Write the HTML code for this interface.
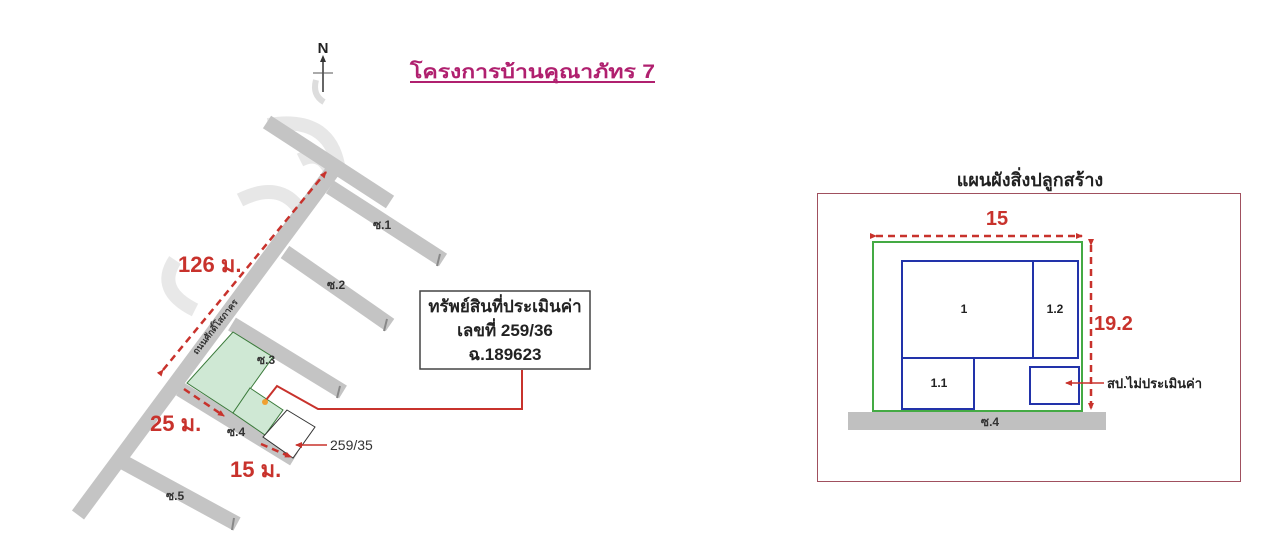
<!DOCTYPE html>
<html><head><meta charset="utf-8"><style>
html,body{margin:0;padding:0;background:#fff;}
svg{display:block;}
text{font-family:"Liberation Sans","DejaVu Sans",sans-serif;font-weight:bold;}
</style></head><body>
<svg width="1275" height="558" viewBox="0 0 1275 558" xmlns="http://www.w3.org/2000/svg">
<defs>
<marker id="ar" markerWidth="8" markerHeight="8" refX="6" refY="4" orient="auto" markerUnits="userSpaceOnUse"><path d="M0,1 L7,4 L0,7 z" fill="#c8322c"/></marker>
</defs>
<!-- watermark -->
<g fill="none" stroke="#e2e2e2" stroke-width="14" opacity="0.8">
<path d="M268,125 q60,-10 70,40"/>
<path d="M300,160 q20,-10 30,10"/>
<path d="M240,200 q40,-20 60,10"/>
<path d="M175,260 q-20,30 20,50"/>
</g>
<!-- roads -->
<g stroke="#c4c4c4" stroke-width="15" stroke-linecap="butt" fill="none">
<line x1="78" y1="515" x2="337" y2="165"/>
<line x1="267" y1="122" x2="390" y2="202"/>
<line x1="330" y1="187" x2="443" y2="260"/>
<line x1="285" y1="252" x2="390" y2="325"/>
<line x1="232" y1="324" x2="343" y2="392"/>
<line x1="180" y1="389" x2="294" y2="459"/>
<line x1="123" y1="462" x2="237" y2="524"/>
</g>
<g stroke="#888" stroke-width="2">
<line x1="440" y1="254" x2="437" y2="266"/>
<line x1="387" y1="319" x2="384" y2="331"/>
<line x1="340" y1="386" x2="337" y2="398"/>
<line x1="234" y1="518" x2="232" y2="530"/>
</g>
<!-- lots -->
<polygon points="233,332 273,357 233,413 187,383" fill="#cfe8d4" stroke="#3a7a3a" stroke-width="1"/>
<polygon points="250,388 283,410 265,435 233,413" fill="#cfe8d4" stroke="#3a7a3a" stroke-width="1"/>
<polygon points="287,410 315,427 293,458 263,437" fill="#fff" stroke="#333" stroke-width="1"/>
<!-- dashed dims -->
<g stroke="#c8322c" stroke-width="2.5" stroke-dasharray="7,5" fill="none">
<line x1="163" y1="370" x2="326" y2="172" marker-end="url(#ar)" marker-start="url(#ar)"/>
<line x1="184" y1="389" x2="224" y2="416" marker-end="url(#ar)"/>
<line x1="261" y1="444" x2="291" y2="457" marker-end="url(#ar)"/>
</g>
<!-- connector -->
<polyline points="522,370 522,409 318,409 277,386 266,400" fill="none" stroke="#c8322c" stroke-width="2"/>
<circle cx="265" cy="402" r="3" fill="#f0a030"/>
<line x1="327" y1="445" x2="296" y2="445" stroke="#c8322c" stroke-width="1.5" marker-end="url(#ar)"/>
<!-- box -->
<rect x="420" y="291" width="170" height="78" fill="#fff" stroke="#444" stroke-width="1.5"/>
<text x="505" y="312" font-size="17" text-anchor="middle" fill="#222">ทรัพย์สินที่ประเมินค่า</text>
<text x="505" y="336" font-size="17" text-anchor="middle" fill="#222">เลขที่ 259/36</text>
<text x="505" y="360" font-size="17" text-anchor="middle" fill="#222">ฉ.189623</text>
<!-- labels -->
<text x="178" y="272" font-size="22" fill="#c8322c">126 ม.</text>
<text x="150" y="431" font-size="22" fill="#c8322c">25 ม.</text>
<text x="230" y="477" font-size="22" fill="#c8322c">15 ม.</text>
<g font-size="12" fill="#333">
<text x="373" y="229">ซ.1</text>
<text x="327" y="289">ซ.2</text>
<text x="257" y="364">ซ.3</text>
<text x="227" y="436">ซ.4</text>
<text x="166" y="500">ซ.5</text>
</g>
<text x="330" y="450" font-size="14" fill="#333" font-weight="normal" style="font-weight:normal">259/35</text>
<text x="0" y="0" font-size="9" fill="#333" transform="translate(197,355) rotate(-52)">ถนนศักดิ์โสภาคร</text>
<!-- north -->
<text x="323" y="53" font-size="15" text-anchor="middle" fill="#222">N</text>
<line x1="323" y1="57" x2="323" y2="92" stroke="#333" stroke-width="1.5"/>
<path d="M320,62 L323,55 L326,62z" fill="#333"/>
<line x1="313" y1="73" x2="333" y2="73" stroke="#555" stroke-width="1"/>
<path d="M316,80 q-4,15 8,22" fill="none" stroke="#ddd" stroke-width="6"/>
<!-- title -->
<text x="410" y="78" font-size="19" fill="#b0206f" textLength="245" lengthAdjust="spacingAndGlyphs">โครงการบ้านคุณาภัทร 7</text>
<line x1="410" y1="82" x2="655" y2="82" stroke="#b0206f" stroke-width="2"/>
<!-- right plan -->
<text x="1030" y="186" font-size="18" text-anchor="middle" fill="#222">แผนผังสิ่งปลูกสร้าง</text>
<rect x="817.5" y="193.5" width="423" height="288" fill="none" stroke="#a0505e" stroke-width="1"/>
<rect x="873" y="242" width="209" height="169" fill="none" stroke="#44aa44" stroke-width="2"/>
<rect x="848" y="412" width="258" height="18" fill="#c0c0c0"/>
<text x="990" y="426" font-size="12" text-anchor="middle" fill="#333">ซ.4</text>
<g fill="none" stroke="#2233aa" stroke-width="2">
<rect x="902" y="261" width="131" height="97"/>
<rect x="1033" y="261" width="45" height="97"/>
<rect x="902" y="358" width="72" height="51"/>
<rect x="1030" y="367" width="49" height="37"/>
</g>
<g font-size="12" fill="#222" text-anchor="middle">
<text x="964" y="313">1</text>
<text x="1055" y="313">1.2</text>
<text x="939" y="387">1.1</text>
</g>
<g stroke="#c8322c" stroke-width="2.5" stroke-dasharray="7,5" fill="none">
<line x1="876" y1="236" x2="1082" y2="236" marker-end="url(#ar)" marker-start="url(#ar)"/>
<line x1="1091" y1="245" x2="1091" y2="409" marker-end="url(#ar)" marker-start="url(#ar)"/>
</g>
<text x="997" y="225" font-size="20" text-anchor="middle" fill="#c8322c">15</text>
<text x="1094" y="330" font-size="20" fill="#c8322c">19.2</text>
<line x1="1104" y1="383" x2="1066" y2="383" stroke="#c8322c" stroke-width="1.5" marker-end="url(#ar)"/>
<text x="1107" y="388" font-size="13" fill="#222">สป.ไม่ประเมินค่า</text>
</svg>
</body></html>
